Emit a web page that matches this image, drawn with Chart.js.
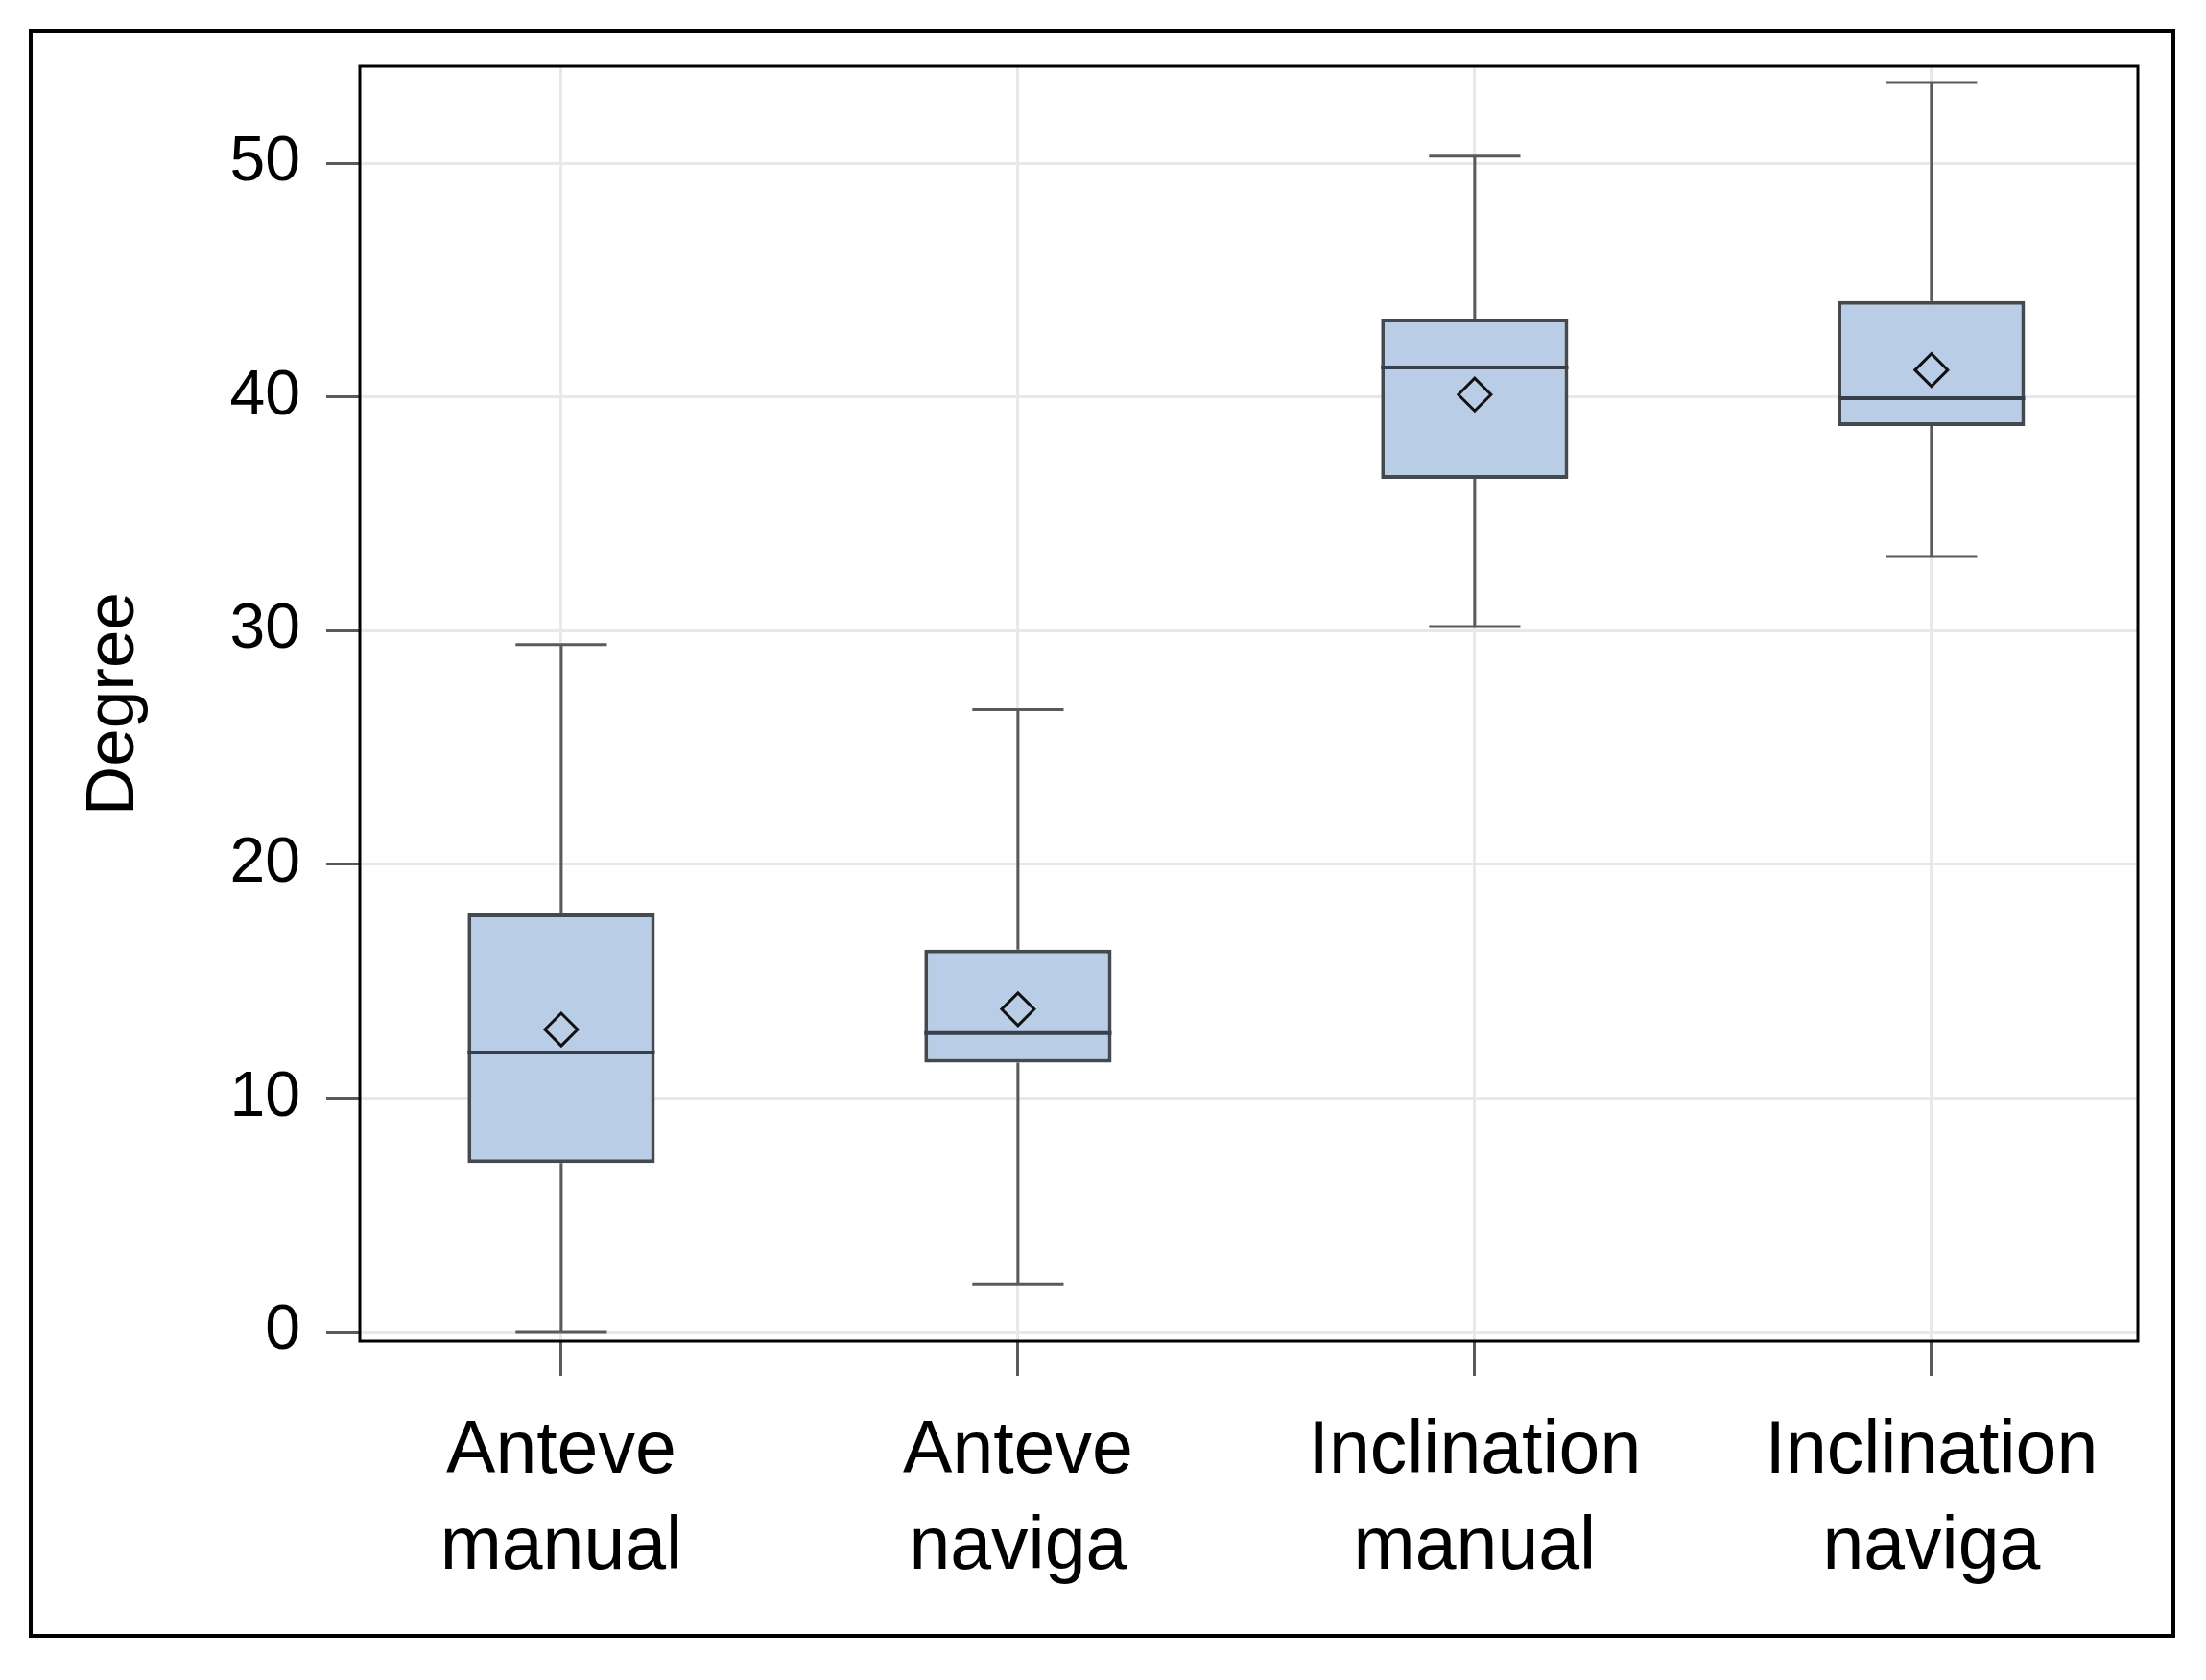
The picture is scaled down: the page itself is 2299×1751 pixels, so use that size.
<!DOCTYPE html>
<html>
<head>
<meta charset="utf-8">
<script src="https://cdn.jsdelivr.net/npm/chart.js@4"></script>
<style>
    html, body { margin: 0; padding: 0; background: #fff; }
    #wrap { position: relative; width: 2299px; height: 1751px; }
</style>
</head>
<body>
<div id="wrap"><canvas id="boxChart"></canvas></div>
<script>
// Box plot data
const categories = [['Anteve', 'manual'], ['Anteve', 'naviga'], ['Inclination', 'manual'], ['Inclination', 'naviga']];
const whiskerLow = [0, 2.04, 30.17, 33.17];
const q1Values = [7.22, 11.52, 36.5, 38.75];
const medianValues = [11.95, 12.78, 41.26, 39.95];
const q3Values = [17.9, 16.35, 43.35, 44.1];
const whiskerHigh = [29.4, 26.62, 50.3, 53.45];
const meanValues = [12.93, 13.8, 40.1, 41.15];
const yTicks = [0, 10, 20, 30, 40, 50];

const fontFamily = "'Liberation Sans', Arial, sans-serif";
const boxHalf = 0.205; // half box width in category units
const capHalf = 0.1;   // half whisker cap width

// Build segment lists (null y breaks the line)
const whiskerPoints = [];
const medianPoints = [];
categories.forEach((c, i) => {
    whiskerPoints.push({ x: i, y: q3Values[i] }, { x: i, y: whiskerHigh[i] }, { x: i, y: null });
    whiskerPoints.push({ x: i, y: q1Values[i] }, { x: i, y: whiskerLow[i] }, { x: i, y: null });
    whiskerPoints.push({ x: i - capHalf, y: whiskerHigh[i] }, { x: i + capHalf, y: whiskerHigh[i] }, { x: i, y: null });
    whiskerPoints.push({ x: i - capHalf, y: whiskerLow[i] }, { x: i + capHalf, y: whiskerLow[i] }, { x: i, y: null });
    medianPoints.push({ x: i - boxHalf, y: medianValues[i] }, { x: i + boxHalf, y: medianValues[i] }, { x: i, y: null });
});

// Plot frame + outer figure frame
const framePlugin = {
    id: 'frames',
    afterDraw(chart) {
        const { ctx, chartArea: a } = chart;
        ctx.save();
        ctx.strokeStyle = '#000';
        ctx.lineWidth = 3;
        ctx.strokeRect(a.left, a.top, a.right - a.left, a.bottom - a.top);
        ctx.lineWidth = 4;
        ctx.strokeRect(32, 32, 2233, 1673);
        ctx.restore();
    }
};

const gridColor = '#e8e8e8';

new Chart(document.getElementById('boxChart'), {
    type: 'bar',
    data: {
        datasets: [
            {
                label: 'Box',
                data: categories.map((c, i) => ({ x: i, y: [q1Values[i], q3Values[i]] })),
                backgroundColor: '#b9cee6',
                borderColor: '#44494f',
                borderWidth: 4,
                borderSkipped: false,
                barPercentage: 0.41,
                categoryPercentage: 1,
                order: 3
            },
            {
                type: 'line',
                label: 'Whiskers',
                data: whiskerPoints,
                borderColor: '#5a5a5a',
                borderWidth: 3,
                pointRadius: 0,
                spanGaps: false,
                tension: 0,
                order: 2
            },
            {
                type: 'line',
                label: 'Median',
                data: medianPoints,
                borderColor: '#37404a',
                borderWidth: 4,
                pointRadius: 0,
                spanGaps: false,
                tension: 0,
                order: 1
            },
            {
                type: 'line',
                label: 'Mean',
                data: categories.map((c, i) => ({ x: i, y: meanValues[i] })),
                showLine: false,
                pointStyle: 'rectRot',
                pointRadius: 17,
                pointBorderWidth: 3,
                pointBorderColor: '#111',
                pointBackgroundColor: 'rgba(0,0,0,0)',
                order: 0
            }
        ]
    },
    options: {
        responsive: true,
        maintainAspectRatio: false,
        animation: false,
        layout: { padding: { left: 0, top: 69, right: 71, bottom: 0 } },
        plugins: {
            legend: { display: false },
            tooltip: { enabled: false }
        },
        scales: {
            x: {
                type: 'linear',
                min: -0.441,
                max: 3.452,
                offset: false,
                afterBuildTicks: s => { s.ticks = categories.map((c, i) => ({ value: i })); },
                afterFit: s => { s.height = 353; },
                ticks: {
                    callback: (v, i) => categories[i],
                    font: { family: fontFamily, size: 77, lineHeight: 1.3 },
                    color: '#000',
                    padding: 30,
                    maxRotation: 0,
                    autoSkip: false
                },
                grid: { color: gridColor, lineWidth: 3, offset: false, tickLength: 36, tickColor: '#5a5a5a', tickWidth: 3 },
                border: { display: false }
            },
            y: {
                min: -0.41,
                max: 54.15,
                afterBuildTicks: s => { s.ticks = yTicks.map(v => ({ value: v })); },
                afterFit: s => { s.width = 375; },
                ticks: {
                    font: { family: fontFamily, size: 66 },
                    color: '#000',
                    padding: 27
                },
                grid: { color: gridColor, lineWidth: 3, tickLength: 35, tickColor: '#5a5a5a', tickWidth: 3 },
                border: { display: false },
                title: {
                    display: true,
                    text: 'Degree',
                    font: { family: fontFamily, size: 71 },
                    color: '#000',
                    padding: { top: 77, bottom: 0 }
                }
            }
        }
    },
    plugins: [framePlugin]
});
</script>
</body>
</html>
